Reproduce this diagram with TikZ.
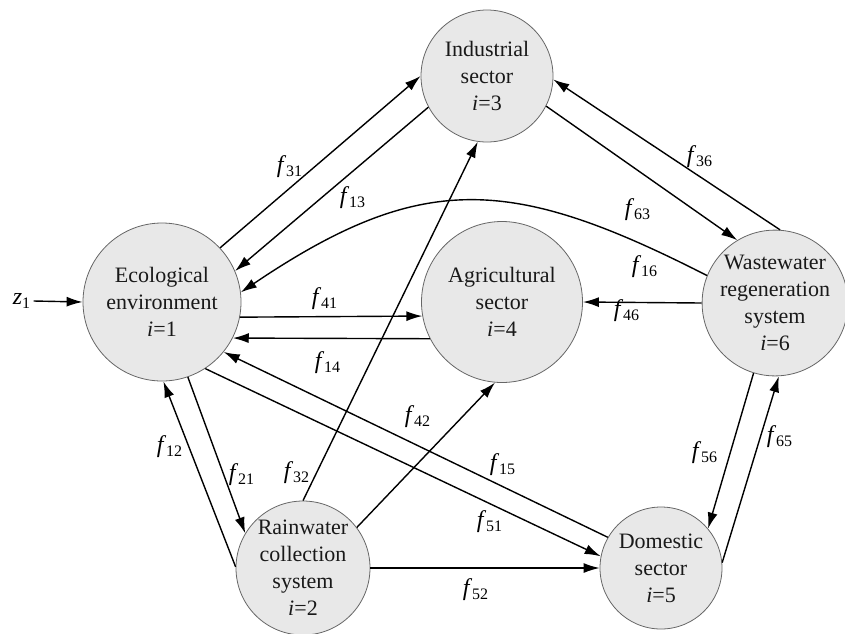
\documentclass[tikz,border=0pt]{standalone}
\usepackage{fontspec}
\setmainfont{Liberation Serif}
\usetikzlibrary{arrows.meta}

\newcommand{\flow}[1]{\textit{f}\textsubscript{#1}}

\begin{document}
\begin{tikzpicture}[x=0.5pt, y=-0.5pt,
        sector/.style={circle, draw=black!60, fill=black!9, inner sep=0pt, align=center,
                       text=black!90, font=\fontsize{11}{13.5}\selectfont},
        lbl/.style={inner sep=1pt, font=\fontsize{12}{14}\selectfont},
        arrow/.style={-{Latex[length=8pt, width=5pt]}, line width=0.7pt}
    ]
        \useasboundingbox (0,0) rectangle (845,633);

        \node[sector, minimum size=79pt]   (eco)  at (162,302) {Ecological\\environment\\\textit{i}=1};
        \node[sector, minimum size=66pt]   (ind)  at (487,76)  {Industrial\\sector\\\textit{i}=3};
        \node[sector, minimum size=80.5pt] (agr)  at (502,302) {Agricultural\\sector\\\textit{i}=4};
        \node[sector, minimum size=72pt]   (ww)   at (775,303) {Wastewater\\regeneration\\system\\\textit{i}=6};
        \node[sector, minimum size=67pt]   (rain) at (303,568) {Rainwater\\collection\\system\\\textit{i}=2};
        \node[sector, minimum size=61pt]   (dom)  at (661,568) {Domestic\\sector\\\textit{i}=5};

        \node[lbl] (z1) at (22,301) {\textit{z}\textsubscript{1}};
        \draw[arrow] (z1.east) -- (eco.west);

        % flows between the sectors
        \draw[arrow] (eco.43.5)  -- (ind.180);
        \draw[arrow] (ind.208)   -- (eco.23.7);
        \draw[arrow] (ww.86)     -- (ind.-3);
        \draw[arrow] (ind.-27)   -- (ww.121);
        \draw[arrow] (ww.158) to[out=153, in=34, looseness=1.2] (eco.7);
        \draw[arrow] (eco.-11)   -- (agr.190.7);
        \draw[arrow] (agr.207.4) -- (eco.-27.9);
        \draw[arrow] (ww.west)   -- (agr.east);
        \draw[arrow] (dom.150)   -- (eco.-39.3);
        \draw[arrow] (eco.-57.8) -- (dom.169);
        \draw[arrow] (rain.east) -- (dom.west);
        \draw[arrow] (rain.179)  -- (eco.-89);
        \draw[arrow] (eco.-71.6) -- (rain.149);
        \draw[arrow] (rain.north) -- (ind.-98);
        \draw[arrow] (rain.37.5) -- (agr.-95);
        \draw[arrow] (ww.-107.4) -- (dom.40);
        \draw[arrow] (dom.5)     -- (ww.-87);

        % flow labels
        \node[lbl] (l31) at (290,167) {\flow{31}};
        \node[lbl] (l13) at (353,198) {\flow{13}};
        \node[lbl] (l36) at (700,157) {\flow{36}};
        \node[lbl] (l63) at (638,210) {\flow{63}};
        \node[lbl] (l16) at (645,267) {\flow{16}};
        \node[lbl] (l46) at (627,311) {\flow{46}};
        \node[lbl] (l41) at (325,299) {\flow{41}};
        \node[lbl] (l14) at (328,363) {\flow{14}};
        \node[lbl] (l42) at (418,417) {\flow{42}};
        \node[lbl] (l15) at (503,465) {\flow{15}};
        \node[lbl] (l32) at (297,473) {\flow{32}};
        \node[lbl] (l12) at (170,447) {\flow{12}};
        \node[lbl] (l21) at (242,475) {\flow{21}};
        \node[lbl] (l51) at (490,522) {\flow{51}};
        \node[lbl] (l52) at (476,590) {\flow{52}};
        \node[lbl] (l56) at (705,453) {\flow{56}};
        \node[lbl] (l65) at (780,437) {\flow{65}};
    \end{tikzpicture}
\end{document}
